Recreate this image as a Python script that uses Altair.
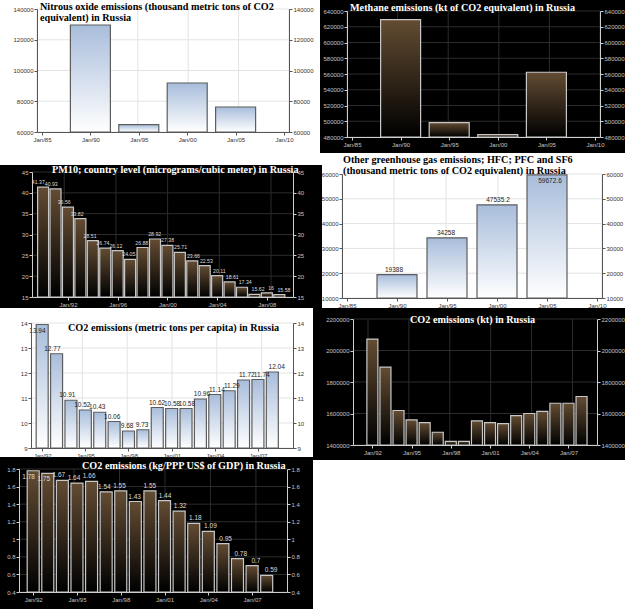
import altair as alt
import pandas as pd

FONT_AX = "Liberation Sans"
FONT_T = "Liberation Serif"
CW, CH = 625, 609

# ---------------- data ----------------
n2o_years = [1990, 1995, 2000, 2005]
n2o_vals = [129600, 64750, 91870, 76260]

ch4_years = [1990, 1995, 2000, 2005]
ch4_vals = [629100, 498300, 483000, 562200]

pm_years = [1990, 1991, 1992, 1993, 1994, 1995, 1996, 1997, 1998, 1999,
            2000, 2001, 2002, 2003, 2004, 2005, 2006, 2007, 2008, 2009]
pm_vals = [41.37, 40.93, 36.56, 33.82, 28.51, 26.74, 26.12, 24.05, 26.88, 28.92,
           27.38, 25.71, 23.66, 22.53, 20.11, 18.61, 17.34, 15.62, 16, 15.58]

ghg_years = [1990, 1995, 2000, 2005]
ghg_vals = [19388, 34258, 47535.2, 59672.6]

y92_08 = [1992, 1993, 1994, 1995, 1996, 1997, 1998, 1999, 2000,
          2001, 2002, 2003, 2004, 2005, 2006, 2007, 2008]
pc_vals = [13.94, 12.77, 10.91, 10.52, 10.43, 10.06, 9.68, 9.73, 10.62,
           10.58, 10.58, 10.96, 11.14, 11.29, 11.72, 11.74, 12.04]
kt_vals = [2072700, 1894500, 1619000, 1559000, 1542000, 1481000, 1423000, 1423000, 1553000,
           1542000, 1536000, 1587000, 1600000, 1613000, 1665000, 1665000, 1708000]
ppp_vals = [1.78, 1.75, 1.67, 1.64, 1.66, 1.54, 1.55, 1.43, 1.55,
            1.44, 1.32, 1.18, 1.09, 0.95, 0.78, 0.7, 0.59]

x_ticks_5 = [1985, 1990, 1995, 2000, 2005, 2010]
x_ticks_pm = [1992, 1996, 2000, 2004, 2008]
x_ticks_3 = [1992, 1995, 1998, 2001, 2004, 2007]

y_ticks_n2o = [60000, 80000, 100000, 120000, 140000]
y_ticks_ch4 = [480000, 500000, 520000, 540000, 560000, 580000, 600000, 620000, 640000]
y_ticks_pm = [15, 20, 25, 30, 35, 40, 45]
y_ticks_ghg = [10000, 20000, 30000, 40000, 50000, 60000]
y_ticks_pc = [9, 10, 11, 12, 13, 14]
y_ticks_kt = [1400000, 1600000, 1800000, 2000000, 2200000]
y_ticks_ppp = [0.4, 0.6, 0.8, 1.0, 1.2, 1.4, 1.6, 1.8]

titles = {
    "n2o": ["Nitrous oxide emissions (thousand metric tons of CO2", "equivalent) in Russia"],
    "ch4": ["Methane emissions (kt of CO2 equivalent) in Russia"],
    "pm": ["PM10; country level (micrograms/cubic meter) in Russia"],
    "ghg": ["Other greenhouse gas emissions; HFC; PFC and SF6",
            "(thousand metric tons of CO2 equivalent) in Russia"],
    "pc": ["CO2 emissions (metric tons per capita) in Russia"],
    "kt": ["CO2 emissions (kt) in Russia"],
    "ppp": ["CO2 emissions (kg/PPP US$ of GDP) in Russia"],
}


def fmt(v):
    return f"{v:.6f}".rstrip("0").rstrip(".")


ONE = pd.DataFrame({"a": [0]})


def background(box, dark):
    bx0, bx1, by0, by1 = box
    return alt.Chart(ONE).mark_rect(color="#000000" if dark else "#ffffff").encode(
        x=alt.value(bx0), x2=alt.value(bx1), y=alt.value(by0), y2=alt.value(by1))


def panel(years, vals, xdom, xticks, ydom, yticks, bw, plot, dark, title, tpos, labels,
          lab_size=6.5):
    px0, px1, py0, py1 = plot
    axc = "#cfcfcf" if dark else "#555555"
    labc = "#c4c4c4" if dark else "#333333"
    gridc = "#2c2c2c" if dark else "#e3e3e3"
    bstroke = "#c8c8c8" if dark else "#5d5d5d"
    vcol = "#dddddd" if dark else "#222222"
    tcol = "#ffffff" if dark else "#000000"
    top = "#634c33" if dark else "#a8bddb"
    bot = "#000000" if dark else "#ffffff"
    grad = alt.Gradient(gradient="linear", x1=0, x2=0, y1=0, y2=1,
                        stops=[alt.GradientStop(color=top, offset=0),
                               alt.GradientStop(color=bot, offset=1)])

    xs = alt.Scale(domain=xdom, range=[px0, px1], nice=False, zero=False)
    ys = alt.Scale(domain=ydom, range=[py1, py0], nice=False, zero=False)
    common = dict(title=None, grid=False, zindex=1, domainColor=axc, tickColor=axc,
                  labelColor=labc, labelFont=FONT_AX, labelFontSize=6, tickSize=3,
                  labelPadding=1, labelOverlap=False, labelFlush=False,
                  domainWidth=1, tickWidth=1)
    xaxis = alt.Axis(orient="bottom", offset=-(CH - py1), values=xticks,
                     labelExpr="'Jan/' + substring(toString(datum.value), 2, 4)", **common)
    yaxis_l = alt.Axis(orient="left", offset=-px0, values=yticks, format="~f", **common)
    yaxis_r = alt.Axis(orient="right", offset=-(CW - px1), values=yticks, format="~f", **common)

    df = pd.DataFrame({"year": years, "v": vals, "lab": [fmt(v) for v in vals]})

    vg = alt.Chart(pd.DataFrame({"t": xticks})).mark_rule(color=gridc, strokeWidth=1).encode(
        x=alt.X("t:Q", scale=xs, axis=None),
        y=alt.YDatum(ydom[0], scale=ys, axis=None), y2=alt.Y2Datum(ydom[1]))
    hg = alt.Chart(pd.DataFrame({"t": yticks})).mark_rule(color=gridc, strokeWidth=1).encode(
        y=alt.Y("t:Q", scale=ys, axis=yaxis_r),
        x=alt.XDatum(xdom[0], scale=xs, axis=None), x2=alt.X2Datum(xdom[1]))
    bars = alt.Chart(df).mark_bar(width=bw, fill=grad, stroke=bstroke, strokeWidth=1.2).encode(
        x=alt.X("year:Q", scale=xs, axis=xaxis),
        y=alt.Y("v:Q", scale=ys, axis=yaxis_l),
        y2=alt.Y2Datum(ydom[0]))
    layers = [vg, hg, bars]
    if labels:
        thr = ydom[1] - 9 * (ydom[1] - ydom[0]) / (py1 - py0)
        base = alt.Chart(df)
        enc = dict(x=alt.X("year:Q", scale=xs, axis=None),
                   y=alt.Y("v:Q", scale=ys, axis=None),
                   text="lab:N")
        out = base.transform_filter(alt.datum.v <= thr).mark_text(
            baseline="bottom", dy=-2, font=FONT_AX, fontSize=lab_size, color=vcol).encode(**enc)
        inn = base.transform_filter(alt.datum.v > thr).mark_text(
            baseline="top", dy=3, font=FONT_AX, fontSize=lab_size, color=vcol).encode(**enc)
        layers += [out, inn]
    for i, line in enumerate(title):
        layers.append(alt.Chart(ONE).mark_text(
            align="left", baseline="alphabetic", font=FONT_T, fontWeight="bold",
            fontSize=10.2, color=tcol).encode(
            x=alt.value(tpos[0]), y=alt.value(tpos[1] + i * 10.5), text=alt.value(line)))
    return layers


# background boxes of the seven tiles (x0, x1, y0, y1) and dark flag
bgs = [
    background((0, 320, 0, 165), False),
    background((320, CW, 0, 153), True),
    background((0, 322, 165, 308), True),
    background((322, CW, 153, 308), False),
    background((0, 313, 308, 457), False),
    background((313, CW, 308, 460), True),
    background((0, 313, 457, CH), True),
]

# plot rectangles (x0, x1, y0, y1)
L1 = panel(n2o_years, n2o_vals, [1985, 2010], x_ticks_5, [60000, 140000], y_ticks_n2o, 40,
           (37, 289, 9, 132), False, titles["n2o"], (40, 10), False)
L2 = panel(ch4_years, ch4_vals, [1985, 2010], x_ticks_5, [480000, 640000], y_ticks_ch4, 40,
           (347, 600, 11, 137), True, titles["ch4"], (350, 11), False)
L3 = panel(pm_years, pm_vals, [1989.51, 2009.7], x_ticks_pm, [15, 45], y_ticks_pm, 11,
           (32, 293, 172, 297), True, titles["pm"], (52, 173), True, lab_size=5.2)
L4 = panel(ghg_years, ghg_vals, [1985, 2010], x_ticks_5, [10000, 60000], y_ticks_ghg, 40,
           (342, 602, 174, 298), False, titles["ghg"], (343, 163), True)
L5 = panel(y92_08, pc_vals, [1991.57, 2009.09], x_ticks_3, [9, 14], y_ticks_pc, 12,
           (31, 293, 323, 448), False, titles["pc"], (68, 331), True)
L6 = panel(y92_08, kt_vals, [1990.9, 2008.8], x_ticks_3, [1400000, 2200000], y_ticks_kt, 11,
           (353, 597, 319, 445), True, titles["kt"], (410, 323), False)
L7 = panel(y92_08, ppp_vals, [1991.37, 2009.05], x_ticks_3, [0.4, 1.8], y_ticks_ppp, 12,
           (19, 287, 469, 592), True, titles["ppp"], (82, 469), True)

all_layers = bgs + L1 + L2 + L3 + L4 + L5 + L6 + L7

chart = alt.layer(*all_layers).resolve_scale(x="independent", y="independent").properties(
    width=CW, height=CH, padding=0, background="#ffffff",
    autosize=alt.AutoSizeParams(type="none")).configure_view(strokeWidth=0)

chart.save("out.html", embed_options={"renderer": "svg", "actions": False})
